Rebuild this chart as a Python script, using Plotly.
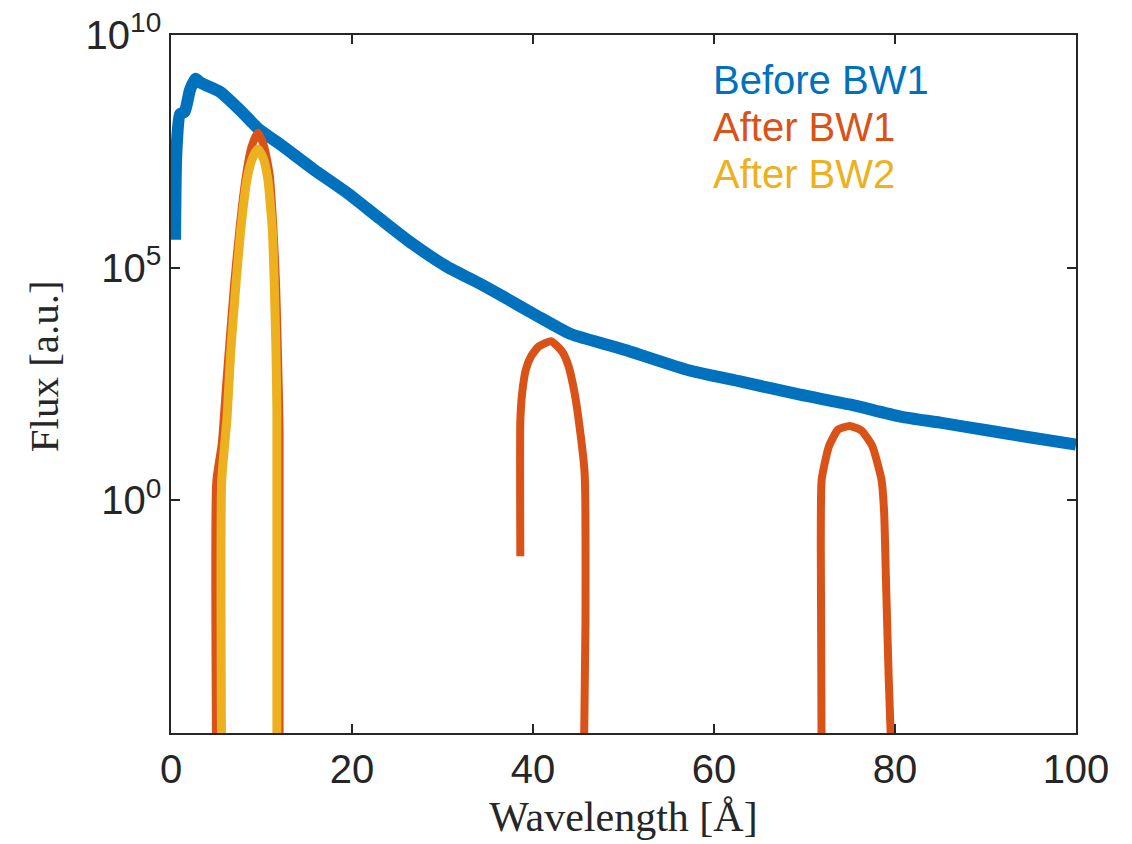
import plotly.graph_objects as go

# wavelength [Å] and log10(flux) (centre of the noisy band)
before_x = [0.45, 0.6, 1.0, 1.5, 2.1, 2.7, 3.3, 5.4, 7.6, 9.8, 12.0, 15.7, 19.45, 23.1, 26.7,
            30.5, 34.1, 36.7, 40.4, 44.1, 47.7, 50.7, 57.3, 63.0, 69.5, 75.0, 80.6, 85.0, 90.3,
            95.0, 100]
before_log = [5.6, 7.5, 8.3, 8.35, 8.82, 9.06, 8.97, 8.78, 8.39, 7.96, 7.66, 7.12, 6.61, 6.05, 5.51,
              5.02, 4.66, 4.38, 3.97, 3.58, 3.37, 3.2, 2.79, 2.55, 2.27, 2.06, 1.8, 1.67, 1.5,
              1.35, 1.2]

# After BW1: three transmission windows
bw1_x1 = [5.0, 5.0, 5.6, 6.1, 6.5, 7.0, 7.6, 8.3, 8.9, 9.6, 10.3, 10.9, 11.3, 11.6, 11.8, 12.0, 12.0]
bw1_log1 = [-6, 0.4, 1.2, 2.5, 3.5, 4.7, 5.9, 7.0, 7.6, 7.9, 7.6, 7.0, 5.9, 4.7, 3.3, 1.5, -6]
bw1_x2 = [38.6, 38.6, 38.8, 39.2, 39.8, 40.6, 42.0, 43.2, 43.9, 44.6, 45.2, 45.7, 45.8, 45.6]
bw1_log2 = [-1.2, 1.7, 2.3, 2.8, 3.1, 3.3, 3.42, 3.2, 2.9, 2.3, 1.5, 0.6, -2.6, -6]
bw1_x3 = [71.9, 71.8, 71.9, 72.7, 73.7, 75.0, 76.3, 77.5, 78.5, 78.8, 79.0, 79.3, 79.7]
bw1_log3 = [-6, -1.0, 0.45, 1.16, 1.52, 1.6, 1.5, 1.16, 0.45, -0.26, -1.7, -3.8, -6]

# After BW2: only the first window survives
bw2_x = [5.6, 5.6, 6.2, 6.6, 7.2, 7.7, 8.4, 9.0, 9.6, 10.2, 10.7, 11.2, 11.4, 11.6, 11.7, 11.7]
bw2_log = [-6, 0.4, 1.8, 3.2, 4.7, 5.8, 6.9, 7.35, 7.55, 7.35, 6.9, 5.8, 4.7, 3.2, 1.9, -6]

labels = ['Before BW1', 'After BW1', 'After BW2']
colors = ['#0072BD', '#D95319', '#EDB120']


def to_flux(logs):
    return [10 ** v for v in logs]


bw1_x = bw1_x1 + [None] + bw1_x2 + [None] + bw1_x3
bw1_y = to_flux(bw1_log1) + [None] + to_flux(bw1_log2) + [None] + to_flux(bw1_log3)

fig = go.Figure()
fig.add_trace(go.Scatter(x=before_x, y=to_flux(before_log), mode='lines',
                         line=dict(color=colors[0], width=12, shape='spline', smoothing=0.6),
                         name=labels[0]))
fig.add_trace(go.Scatter(x=bw1_x, y=bw1_y, mode='lines', connectgaps=False,
                         line=dict(color=colors[1], width=8, shape='spline', smoothing=0.5),
                         name=labels[1]))
fig.add_trace(go.Scatter(x=bw2_x, y=to_flux(bw2_log), mode='lines',
                         line=dict(color=colors[2], width=9, shape='spline', smoothing=0.5),
                         name=labels[2]))

# legend as coloured text, MATLAB style
for i, (lab, col) in enumerate(zip(labels, colors)):
    fig.add_annotation(x=0.597, y=0.935 - i * 0.067, xref='paper', yref='paper',
                       text=lab, showarrow=False, xanchor='left', yanchor='middle',
                       font=dict(family='Liberation Sans', size=40, color=col))

axis_col = '#262626'
fig.add_annotation(x=-0.141, y=0.526, xref='paper', yref='paper', text='Flux [a.u.]',
                   textangle=-90, showarrow=False, xanchor='center', yanchor='middle',
                   font=dict(family='Liberation Serif', size=41, color=axis_col))

fig.update_xaxes(range=[0, 100], tickvals=[0, 20, 40, 60, 80, 100],
                 ticks='inside', ticklen=9, tickwidth=1.5, tickcolor=axis_col,
                 showline=True, linecolor=axis_col, linewidth=1.5, mirror='ticks',
                 showgrid=False, zeroline=False, ticklabeloverflow='allow', automargin=False,
                 tickfont=dict(family='Liberation Sans', size=40, color=axis_col),
                 title=dict(text='Wavelength [Å]', standoff=12,
                            font=dict(family='Liberation Serif', size=42, color=axis_col)))
fig.update_yaxes(type='log', range=[-5, 10], tickvals=[1, 1e5, 1e10],
                 ticktext=['10<sup>0</sup>', '10<sup>5</sup>', '10<sup>10</sup>'],
                 ticks='inside', ticklen=9, tickwidth=1.5, tickcolor=axis_col,
                 showline=True, linecolor=axis_col, linewidth=1.5, mirror='ticks',
                 showgrid=False, zeroline=False, ticklabeloverflow='allow', automargin=False,
                 tickfont=dict(family='Liberation Sans', size=40, color=axis_col))

fig.update_layout(width=1132, height=844, showlegend=False,
                  margin=dict(l=163, r=64, t=27, b=119),
                  plot_bgcolor='white', paper_bgcolor='white')

fig.write_html("out.html")
